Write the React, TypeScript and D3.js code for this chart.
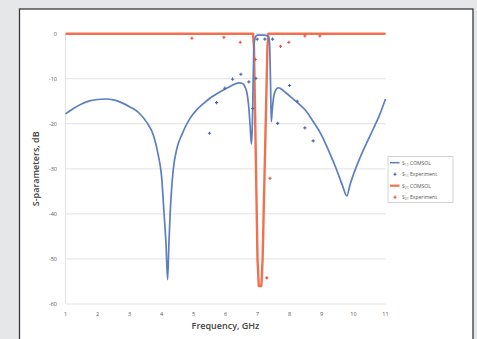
import React from "react";
import * as d3 from "d3";

// S11 simulated (COMSOL) curve, [GHz, dB]
const s11Comsol: [number, number][] = [
  [1.0, -17.8], [1.25, -16.6], [1.5, -15.6], [1.75, -14.9], [2.0, -14.6], [2.25, -14.5],
  [2.5, -14.7], [2.75, -15.3], [3.0, -16.2], [3.3, -17.6], [3.55, -19.8], [3.75, -22.6],
  [3.9, -27.0], [4.0, -31.5], [4.08, -39.9], [4.14, -46.5], [4.19, -54.6], [4.23, -47],
  [4.27, -40], [4.32, -34], [4.37, -30], [4.48, -25.5], [4.63, -22.5], [4.89, -18.8],
  [5.1, -16.9], [5.31, -15.5], [5.6, -13.9], [5.93, -12.5], [6.2, -11.5], [6.42, -10.9],
  [6.52, -11.0], [6.61, -11.8], [6.68, -13.5], [6.73, -16.5], [6.77, -20.5], [6.81, -24.5],
  [6.84, -20], [6.86, -12], [6.88, -5], [6.9, -1.8], [6.94, -0.6], [7.0, -0.3],
  [7.2, -0.3], [7.33, -0.5], [7.37, -1.5], [7.39, -5], [7.41, -12], [7.43, -19.5],
  [7.46, -17], [7.52, -13.5], [7.6, -12.2], [7.66, -12.0], [7.8, -12.6], [8.0, -13.8],
  [8.25, -15.3], [8.5, -17], [8.75, -19.6], [9.0, -22.5], [9.25, -26.4], [9.45, -29.8],
  [9.65, -33.6], [9.79, -36], [9.9, -33.3], [10.0, -31.2], [10.2, -27.6], [10.4, -24.4],
  [10.62, -21.1], [10.8, -18.3], [11.0, -14.5],
];

// S21 simulated (COMSOL) curve
const s21Comsol: [number, number][] = [
  [1.0, 0], [6.86, 0], [6.89, -3], [7.0, -50], [7.04, -56], [7.12, -56], [7.16, -50],
  [7.31, -3], [7.34, 0], [11.0, 0],
];

// measured points
const s11Exp: [number, number][] = [
  [5.5, -22.1], [5.72, -15.3], [5.98, -12.1], [6.22, -10.1], [6.48, -9.0], [6.73, -10.7],
  [6.85, -16.6], [6.95, -9.9], [6.99, -1.2], [7.23, -1.2], [7.47, -1.2], [7.63, -19.9],
  [8.0, -11.5], [8.24, -15], [8.48, -20.9], [8.74, -23.8],
];

const s21Exp: [number, number][] = [
  [4.95, -1.0], [5.95, -0.8], [6.46, -1.9], [6.93, -5.7], [7.29, -54.2], [7.39, -32.1],
  [7.72, -2.8], [7.98, -1.9], [8.48, -0.5], [8.95, -0.5],
];

const xTicks = [1, 2, 3, 4, 5, 6, 7, 8, 9, 10, 11];
const yTicks = [0, -10, -20, -30, -40, -50, -60];

const legendItems = [
  { sub: "11", label: "COMSOL", kind: "line", color: "#5b7fc0" },
  { sub: "11", label: "Experiment", kind: "mark", color: "#4a66a8" },
  { sub: "21", label: "COMSOL", kind: "line", color: "#f0704f" },
  { sub: "21", label: "Experiment", kind: "mark", color: "#ea4b3c" },
];

const W = 477;
const H = 339;
const FONT = "'Open Sans', 'DejaVu Sans', sans-serif";

const x = d3.scaleLinear().domain([1, 11]).range([65.5, 385.5]);
const y = d3.scaleLinear().domain([0, -60]).range([33.7, 304]);

const smooth = d3
  .line<[number, number]>()
  .x((d) => x(d[0]))
  .y((d) => y(d[1]))
  .curve(d3.curveMonotoneX);

const straight = d3
  .line<[number, number]>()
  .x((d) => x(d[0]))
  .y((d) => y(d[1]));

const Plus = ({ cx, cy, color }: { cx: number; cy: number; color: string }) => (
  <path
    d={`M${cx - 1.6},${cy}H${cx + 1.6}M${cx},${cy - 1.6}V${cy + 1.6}`}
    stroke={color}
    strokeWidth={1.1}
  />
);

export default function App() {
  return (
    <svg
      width={W}
      height={H}
      style={{ position: "absolute", left: 0, top: 0, display: "block" }}
      fontFamily={FONT}
    >
      <rect x={0} y={0} width={W} height={H} fill="#e6e7e8" />
      <rect x={19.5} y={9} width={453.5} height={H} fill="#ffffff" stroke="#3a3a3a" strokeWidth={1.3} />

      {/* grid */}
      {yTicks.map((t) => (
        <line key={t} x1={x(1)} x2={x(11)} y1={y(t)} y2={y(t)} stroke="#e2e2e2" strokeWidth={1} />
      ))}
      <line x1={x(1)} x2={x(1)} y1={y(0)} y2={y(-60)} stroke="#e2e2e2" strokeWidth={1} />

      {/* tick labels */}
      {yTicks.map((t) => (
        <text key={t} x={57} y={y(t) + 2} fontSize={5.5} fill="#555" textAnchor="end">
          {t}
        </text>
      ))}
      {xTicks.map((t) => (
        <text key={t} x={x(t)} y={316} fontSize={5.5} fill="#555" textAnchor="middle">
          {t}
        </text>
      ))}

      <text x={x(6)} y={329} fontSize={9} fontWeight={600} fill="#444" textAnchor="middle">
        Frequency, GHz
      </text>
      <text
        transform={`translate(39,${y(-30)}) rotate(-90)`}
        fontSize={9}
        fontWeight={600}
        fill="#444"
        textAnchor="middle"
      >
        S-parameters, dB
      </text>

      {/* curves */}
      <path d={straight(s21Comsol) ?? ""} fill="none" stroke="#f0704f" strokeWidth={2.4} strokeLinejoin="round" />
      <path d={smooth(s11Comsol) ?? ""} fill="none" stroke="#5b7fc0" strokeWidth={1.7} />

      {s11Exp.map((d, i) => (
        <Plus key={"a" + i} cx={x(d[0])} cy={y(d[1])} color="#4a66a8" />
      ))}
      {s21Exp.map((d, i) => (
        <Plus key={"b" + i} cx={x(d[0])} cy={y(d[1])} color="#ea4b3c" />
      ))}

      {/* legend */}
      <rect x={388} y={156.5} width={65} height={46} fill="#fff" stroke="#c8c8c8" strokeWidth={0.8} />
      {legendItems.map((it, i) => {
        const ly = 162.7 + i * 11.5;
        return (
          <g key={i}>
            {it.kind === "line" ? (
              <line
                x1={390}
                x2={399.5}
                y1={ly}
                y2={ly}
                stroke={it.color}
                strokeWidth={it.sub === "21" ? 2.2 : 1.5}
              />
            ) : (
              <Plus cx={395} cy={ly} color={it.color} />
            )}
            <text x={402} y={ly + 1.8} fontSize={5} fill="#555">
              S
              <tspan fontSize={3.5} dy={1}>
                {it.sub}
              </tspan>
              <tspan dy={-1}> {it.label}</tspan>
            </text>
          </g>
        );
      })}
    </svg>
  );
}
